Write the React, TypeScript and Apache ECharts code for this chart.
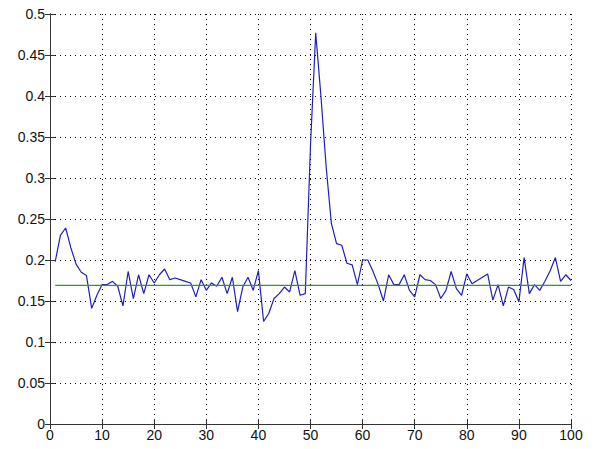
import React, { useEffect, useRef } from "react";
import * as echarts from "echarts";

const xValues: number[] = Array.from({ length: 100 }, (_, k) => k + 1);
const signal: number[] = [
  0.198, 0.23, 0.239, 0.215, 0.195, 0.185, 0.181, 0.141, 0.157, 0.17,
  0.17, 0.174, 0.168, 0.144, 0.186, 0.153, 0.182, 0.159, 0.182, 0.172,
  0.182, 0.189, 0.176, 0.178, 0.176, 0.174, 0.172, 0.155, 0.176, 0.163,
  0.172, 0.168, 0.179, 0.159, 0.179, 0.137, 0.167, 0.179, 0.163, 0.187,
  0.125, 0.135, 0.153, 0.159, 0.167, 0.161, 0.187, 0.157, 0.159, 0.34,
  0.477, 0.4, 0.314, 0.245, 0.22, 0.218, 0.196, 0.194, 0.17, 0.2,
  0.2, 0.186, 0.17, 0.15, 0.182, 0.17, 0.17, 0.182, 0.163, 0.155,
  0.182, 0.176, 0.175, 0.17, 0.153, 0.163, 0.186, 0.165, 0.157, 0.183,
  0.171, 0.175, 0.179, 0.183, 0.151, 0.17, 0.144, 0.167, 0.164, 0.149,
  0.203, 0.159, 0.17, 0.163, 0.174, 0.187, 0.203, 0.174, 0.182, 0.175,
];
const threshold = 0.169;
const thresholdRange: number[] = [1, 100];

const font = "'Liberation Sans', Arial, sans-serif";

export default function App() {
  const ref = useRef<HTMLDivElement>(null);
  useEffect(() => {
    if (!ref.current) return;
    const chart = echarts.init(ref.current, undefined, { renderer: "svg" });
    const axisLine = { show: true, lineStyle: { color: "#333", width: 1 } };
    const tick = { show: true, inside: true, length: 5, lineStyle: { color: "#333" } };
    const split = { show: true, lineStyle: { color: "#000", type: [1, 4] as any, width: 1 } };
    chart.setOption({
      animation: false,
      backgroundColor: "#fff",
      grid: { left: 50, right: 24, top: 14, bottom: 25, containLabel: false },
      xAxis: [
        {
          type: "value", min: 0, max: 100, interval: 10, position: "bottom",
          axisLine, axisTick: tick, splitLine: split,
          axisLabel: { color: "#111", fontSize: 14, fontFamily: font, margin: 4 },
        },
        {
          type: "value", min: 0, max: 100, interval: 10, position: "top",
          axisLine, axisTick: tick, splitLine: { show: false }, axisLabel: { show: false },
        },
      ],
      yAxis: [
        {
          type: "value", min: 0, max: 0.5, interval: 0.05, position: "left",
          axisLine, axisTick: tick, splitLine: split,
          axisLabel: {
            color: "#111", fontSize: 14, fontFamily: font, margin: 5,
            formatter: (v: number) => String(parseFloat(v.toFixed(2))),
          },
        },
        {
          type: "value", min: 0, max: 0.5, interval: 0.05, position: "right",
          axisLine, axisTick: tick, splitLine: { show: false }, axisLabel: { show: false },
        },
      ],
      series: [
        {
          type: "line",
          data: xValues.map((x, k) => [x, signal[k]]),
          showSymbol: false,
          itemStyle: { color: "#2020b8" },
          lineStyle: { color: "#2020b8", width: 1.2 },
          z: 3,
        },
        {
          type: "line",
          data: thresholdRange.map((x) => [x, threshold]),
          showSymbol: false,
          itemStyle: { color: "#22a022" },
          lineStyle: { color: "#22a022", width: 1.3 },
          z: 4,
        },
      ],
    });
    return () => chart.dispose();
  }, []);
  return (
    <div
      ref={ref}
      style={{ position: "fixed", left: 0, top: 0, width: 595, height: 449, background: "#fff" }}
    />
  );
}
